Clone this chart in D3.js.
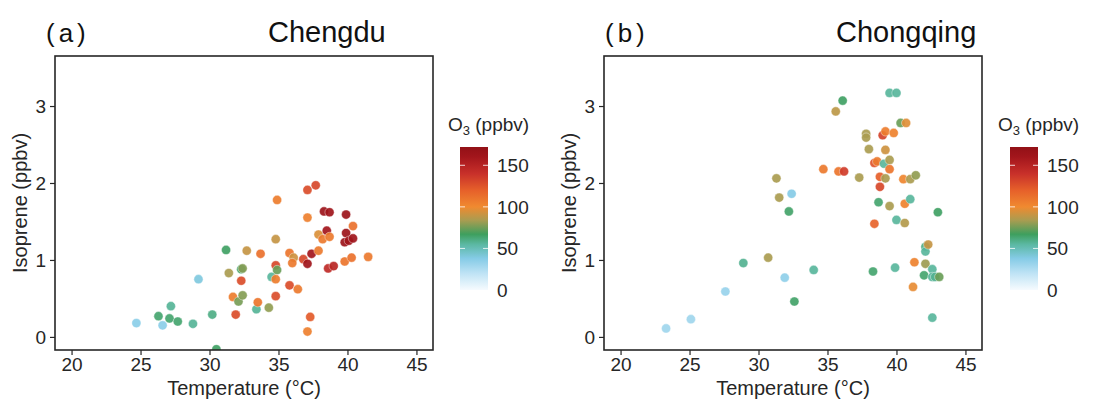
<!DOCTYPE html>
<html>
<head>
<meta charset="utf-8">
<script src="https://cdn.jsdelivr.net/npm/d3@7"></script>
<style>
  html, body { margin: 0; padding: 0; background: #fff; }
  svg { display: block; font-family: "Liberation Sans", Arial, sans-serif; }
</style>
</head>
<body>
<svg id="chart" width="1093" height="402"></svg>
<script>
// Chengdu observations: temperature (°C), isoprene (ppbv), O3 (ppbv)
const cdTemp = [24.7, 26.6, 26.3, 27.1, 27.2, 27.7, 28.8, 29.2, 30.2, 30.5,
  31.2, 31.4, 31.9, 31.7, 32.1, 32.3, 32.3, 32.4, 32.4, 32.7,
  33.4, 33.5, 33.7, 34.3, 34.5, 34.8, 34.8, 34.9, 34.8, 34.8,
  34.9, 35.8, 35.8, 36.1, 36.0, 36.4, 36.8, 37.1, 37.1, 37.1,
  37.1, 37.3, 37.4, 37.7, 37.9, 37.9, 38.2, 38.3, 38.7, 38.5,
  38.7, 38.6, 39.0, 39.8, 39.9, 39.9, 39.8, 40.1, 40.4, 40.4,
  40.3, 41.5];
const cdIso = [0.18, 0.15, 0.27, 0.24, 0.40, 0.20, 0.17, 0.75, 0.29, -0.16,
  1.13, 0.83, 0.29, 0.52, 0.46, 0.73, 0.88, 0.89, 0.54, 1.12,
  0.36, 0.45, 1.08, 0.38, 0.78, 1.27, 0.93, 0.87, 0.75, 0.53,
  1.78, 1.09, 0.67, 1.03, 0.96, 0.62, 1.01, 1.91, 1.55, 0.95,
  0.07, 0.26, 1.08, 1.97, 1.33, 1.12, 1.27, 1.63, 1.62, 1.38,
  1.30, 0.89, 0.92, 0.98, 1.59, 1.35, 1.23, 1.25, 1.28, 1.44,
  1.03, 1.04];
const cdO3 = [36, 36, 64, 64, 57, 64, 57, 40, 60, 66,
  66, 84, 128, 106, 76, 128, 66, 78, 78, 90,
  57, 110, 112, 80, 56, 90, 130, 74, 106, 128,
  106, 110, 128, 92, 108, 108, 130, 128, 105, 162,
  105, 122, 160, 130, 95, 108, 108, 165, 163, 160,
  108, 145, 148, 110, 165, 165, 165, 162, 162, 112,
  112, 108];

// Chongqing observations
const cqTemp = [23.3, 25.1, 27.6, 28.9, 30.7, 31.3, 31.5, 31.9, 32.2, 32.4,
  32.6, 34.0, 34.7, 35.6, 35.8, 36.2, 36.1, 37.3, 37.8, 37.8,
  38.0, 38.3, 38.4, 38.4, 38.6, 38.7, 38.8, 38.8, 39.0, 39.1,
  39.2, 39.2, 39.2, 39.5, 39.5, 39.5, 39.5, 39.8, 39.9, 40.0,
  40.0, 40.3, 40.7, 40.5, 40.6, 40.6, 41.0, 41.0, 41.4, 41.3,
  41.2, 42.1, 42.1, 42.3, 42.1, 42.0, 42.6, 42.6, 42.8, 43.1,
  43.0, 42.6];
const cqIso = [0.11, 0.23, 0.59, 0.96, 1.03, 2.06, 1.81, 0.77, 1.63, 1.86,
  0.46, 0.87, 2.18, 2.93, 2.15, 2.15, 3.07, 2.07, 2.64, 2.59,
  2.44, 0.85, 1.47, 2.26, 2.28, 1.75, 2.08, 1.95, 2.62, 2.25,
  2.67, 2.43, 2.06, 3.17, 2.30, 2.18, 1.70, 2.65, 0.90, 3.17,
  1.52, 2.78, 2.78, 2.05, 1.73, 1.48, 2.05, 1.79, 2.10, 0.97,
  0.65, 1.17, 1.11, 1.20, 0.95, 0.80, 0.88, 0.78, 0.78, 0.78,
  1.62, 0.25];
const cqO3 = [30, 30, 32, 58, 84, 84, 84, 35, 65, 38,
  65, 56, 108, 88, 110, 135, 66, 84, 84, 84,
  84, 64, 118, 125, 108, 64, 120, 130, 132, 56,
  106, 92, 84, 56, 84, 110, 84, 104, 56, 56,
  56, 74, 96, 102, 104, 86, 84, 56, 80, 104,
  98, 60, 56, 90, 82, 64, 56, 56, 58, 74,
  66, 56];

const tempTicks = [20, 25, 30, 35, 40, 45];
const isoTicks = [0, 1, 2, 3];
const o3Ticks = [0, 50, 100, 150];

// O3 colour ramp (value, colour)
const rampStops = [
  [0, "#f6fbfe"], [20, "#bfe3f5"], [38, "#85cbe6"], [55, "#5bb8a2"],
  [67, "#3e9f5e"], [84, "#aa9c50"], [100, "#f08a30"], [120, "#e6602a"],
  [140, "#c8302a"], [160, "#a3161c"], [175, "#8e1016"]
];
const color = d3.scaleLinear()
  .domain(rampStops.map(d => d[0]))
  .range(rampStops.map(d => d[1]))
  .interpolate(d3.interpolateRgb)
  .clamp(true);

const svg = d3.select("#chart");
const ink = "#262626";

const panels = [
  { tag: "(a)", city: "Chengdu", temp: cdTemp, iso: cdIso, o3: cdO3,
    left: 55, right: 433, tagX: 46, cityX: 268, barX: 460, id: "a" },
  { tag: "(b)", city: "Chongqing", temp: cqTemp, iso: cqIso, o3: cqO3,
    left: 604, right: 982, tagX: 605, cityX: 836, barX: 1010, id: "b" }
];

const plotTop = 56, plotBottom = 350;

panels.forEach(p => {
  const x = d3.scaleLinear().domain([18.8, 46.2]).range([p.left, p.right]);
  const y = d3.scaleLinear().domain([-0.17, 3.65]).range([plotBottom, plotTop]);

  const g = svg.append("g");

  // clip so partially visible points are cut by the frame
  const clipId = "clip-" + p.id;
  svg.append("clipPath").attr("id", clipId)
    .append("rect").attr("x", p.left).attr("y", plotTop)
    .attr("width", p.right - p.left).attr("height", plotBottom - plotTop);

  // points
  const pts = p.temp.map((t, i) => ({ t, v: p.iso[i], o: p.o3[i] }));
  g.append("g").attr("clip-path", `url(#${clipId})`)
    .selectAll("circle").data(pts).join("circle")
    .attr("cx", d => x(d.t))
    .attr("cy", d => y(d.v))
    .attr("r", 4.6)
    .attr("fill", d => color(d.o))
    .attr("fill-opacity", 0.92)
    .attr("stroke", "#ffffff")
    .attr("stroke-opacity", 0.5)
    .attr("stroke-width", 0.8);

  // axes
  const xAxis = d3.axisBottom(x).tickValues(tempTicks).tickSize(5).tickPadding(3);
  const yAxis = d3.axisLeft(y).tickValues(isoTicks).tickFormat(d3.format("d"))
    .tickSize(5).tickPadding(4);

  const gx = g.append("g").attr("transform", `translate(0,${plotBottom})`).call(xAxis);
  const gy = g.append("g").attr("transform", `translate(${p.left},0)`).call(yAxis);
  [gx, gy].forEach(a => {
    a.select(".domain").remove();
    a.selectAll(".tick line").attr("stroke", ink).attr("stroke-width", 1.2);
    a.selectAll(".tick text").attr("fill", ink)
      .style("font-size", "19px");
  });

  // frame
  g.append("rect")
    .attr("x", p.left).attr("y", plotTop)
    .attr("width", p.right - p.left).attr("height", plotBottom - plotTop)
    .attr("fill", "none").attr("stroke", ink).attr("stroke-width", 1.6);

  // axis titles
  g.append("text")
    .attr("x", (p.left + p.right) / 2).attr("y", 395)
    .attr("text-anchor", "middle").attr("fill", ink)
    .style("font-size", "20px")
    .text("Temperature (°C)");
  g.append("text")
    .attr("transform", `translate(${p.left - 28},203) rotate(-90)`)
    .attr("text-anchor", "middle").attr("fill", ink)
    .style("font-size", "20px")
    .text("Isoprene (ppbv)");

  // panel tag and city name
  g.append("text").attr("x", p.tagX).attr("y", 42)
    .attr("fill", "#111").style("font-size", "26px")
    .style("letter-spacing", "4px")
    .text(p.tag);
  g.append("text").attr("x", p.cityX).attr("y", 42)
    .attr("fill", "#111").style("font-size", "29px")
    .text(p.city);

  // colour bar
  const barTop = 147, barBottom = 290, barW = 28;
  const cb = d3.scaleLinear().domain([0, 172]).range([barBottom, barTop]);
  const gradId = "grad-" + p.id;
  const grad = svg.append("defs").append("linearGradient")
    .attr("id", gradId).attr("x1", 0).attr("x2", 0).attr("y1", 1).attr("y2", 0);
  rampStops.filter(s => s[0] <= 172).concat([[172, color(172)]]).forEach(s => {
    grad.append("stop").attr("offset", s[0] / 172).attr("stop-color", s[1]);
  });
  g.append("rect").attr("x", p.barX).attr("y", barTop)
    .attr("width", barW).attr("height", barBottom - barTop)
    .attr("fill", `url(#${gradId})`);

  // white tick dashes inside the bar
  o3Ticks.filter(v => v > 0).forEach(v => {
    [[p.barX, p.barX + 5], [p.barX + barW - 5, p.barX + barW]].forEach(([a, b]) => {
      g.append("line").attr("x1", a).attr("x2", b)
        .attr("y1", cb(v)).attr("y2", cb(v))
        .attr("stroke", "#ffffff").attr("stroke-opacity", 0.8).attr("stroke-width", 1);
    });
  });
  g.append("g").selectAll("text").data(o3Ticks).join("text")
    .attr("x", p.barX + barW + 9).attr("y", v => cb(v) + 7)
    .attr("fill", ink).style("font-size", "19px")
    .text(v => v);

  const lt = g.append("text").attr("x", p.barX - 12).attr("y", 131)
    .attr("fill", ink).style("font-size", "19px");
  lt.append("tspan").text("O");
  lt.append("tspan").attr("dy", 4).style("font-size", "13px").text("3");
  lt.append("tspan").attr("dy", -4).text(" (ppbv)");
});
</script>
</body>
</html>
